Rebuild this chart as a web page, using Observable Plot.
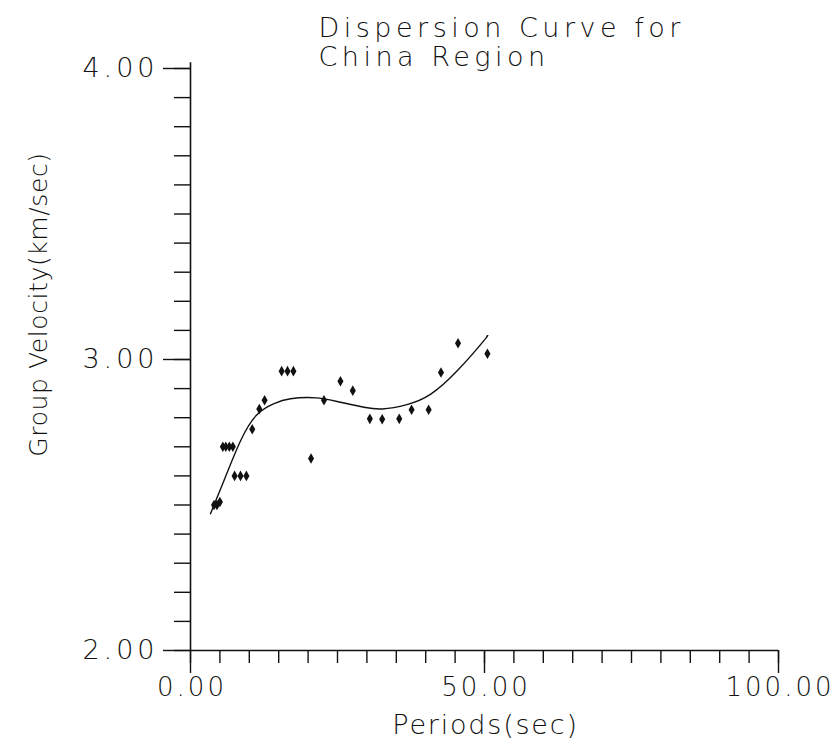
<!DOCTYPE html>
<html>
<head>
<meta charset="utf-8">
<script src="https://cdn.jsdelivr.net/npm/d3@7"></script>
<script src="https://cdn.jsdelivr.net/npm/@observablehq/plot@0.6"></script>
<style>
html,body{margin:0;padding:0;background:#fff;}
</style>
</head>
<body>
<div id="chart"></div>
<script>
// Observed data points (period in sec, group velocity in km/sec)
const periods = [4.0, 4.5, 5.0, 5.5, 6.0, 6.6, 7.2, 7.5, 8.5, 9.5, 10.5, 11.7, 12.6, 15.5, 16.5, 17.5, 20.5, 22.7, 25.5, 27.6, 30.5, 32.6, 35.5, 37.6, 40.5, 42.6, 45.5, 50.5];
const velocities = [2.50, 2.50, 2.51, 2.70, 2.70, 2.70, 2.70, 2.60, 2.60, 2.60, 2.76, 2.83, 2.86, 2.96, 2.96, 2.96, 2.66, 2.86, 2.925, 2.893, 2.796, 2.795, 2.796, 2.827, 2.827, 2.955, 3.056, 3.02];

// Fitted dispersion curve
const curvePeriods = [3.4, 5.7, 8.5, 11.3, 14.2, 17.0, 21.5, 25.5, 29.5, 32.6, 36.8, 40.8, 45.4, 49.9, 50.4];
const curveVelocities = [2.47, 2.584, 2.72, 2.81, 2.848, 2.865, 2.868, 2.853, 2.836, 2.83, 2.845, 2.88, 2.962, 3.065, 3.08];

// Axis ticks
const xMinorTicks = d3.range(0, 101, 5);
const xMajorTicks = [0, 50, 100];
const yMinorTicks = d3.range(20, 41).map(d => d / 10);
const yMajorTicks = [2, 3, 4];

const titleText = "Dispersion Curve for\nChina Region";
const xLabel = "Periods(sec)";
const yLabel = "Group Velocity(km/sec)";

const points = periods.map((p, i) => ({p, v: velocities[i]}));
const curve = curvePeriods.map((p, i) => ({p, v: curveVelocities[i]}));

const font = "'DejaVu Sans', sans-serif";
const fmt = d3.format(".2f");

const chart = Plot.plot({
  width: 835,
  height: 751,
  marginLeft: 190,
  marginRight: 57,
  marginTop: 68,
  marginBottom: 101,
  style: {fontFamily: font, background: "#fff", color: "#111"},
  x: {domain: [0, 100], label: null},
  y: {domain: [2, 4], label: null},
  marks: [
    Plot.ruleX([0], {y1: 2, y2: 4.02, stroke: "#111", strokeWidth: 1.6}),
    Plot.ruleY([2], {x1: 0, x2: 100, stroke: "#111", strokeWidth: 1.6}),
    Plot.axisY(yMinorTicks, {tickSize: 16, text: null, label: null, strokeWidth: 1.4}),
    Plot.axisY(yMajorTicks, {tickSize: 27, tickPadding: 5, tickFormat: fmt, label: null, fontSize: 27, strokeWidth: 1.4, fontWeight: 200}),
    Plot.axisX(xMinorTicks, {tickSize: 13, text: null, label: null, strokeWidth: 1.4}),
    Plot.axisX(xMajorTicks, {tickSize: 23, tickPadding: 4, tickFormat: fmt, label: null, fontSize: 26, strokeWidth: 1.4, fontWeight: 200}),
    Plot.line(curve, {x: "p", y: "v", curve: "natural", stroke: "#111", strokeWidth: 1.4}),
    Plot.dot(points, {x: "p", y: "v", symbol: "diamond", r: 3.2, fill: "#111", stroke: "none"}),
    Plot.text([titleText], {frameAnchor: "top-left", textAnchor: "start", lineAnchor: "top", dx: 128, dy: -53, fontSize: 27, fontWeight: 200, lineHeight: 1.1, fill: "#111"}),
    Plot.text([xLabel], {frameAnchor: "bottom", lineAnchor: "middle", dy: 75, dx: 1, fontSize: 27, fontWeight: 200, fill: "#111"}),
    Plot.text([yLabel], {frameAnchor: "left", textAnchor: "middle", lineAnchor: "middle", rotate: -90, dx: -152, dy: -55, fontSize: 25, fontWeight: 200, fill: "#111"})
  ]
});

// Letter spacing to mimic the wide plotter lettering
const svg = d3.select(chart);
svg.selectAll("g[aria-label='y-axis tick label'] text").style("letter-spacing", "4px");
svg.selectAll("g[aria-label='x-axis tick label'] text").style("letter-spacing", "3px").attr("dx", 1.5);
svg.selectAll("g[aria-label='text'] text").each(function() {
  const t = this.textContent;
  const s = t.startsWith("Dispersion") || t.startsWith("China") ? "4.5px"
    : t.startsWith("Periods") ? "1.8px" : "0.6px";
  d3.select(this).style("letter-spacing", s);
});
document.getElementById("chart").appendChild(chart);
</script>
</body>
</html>
